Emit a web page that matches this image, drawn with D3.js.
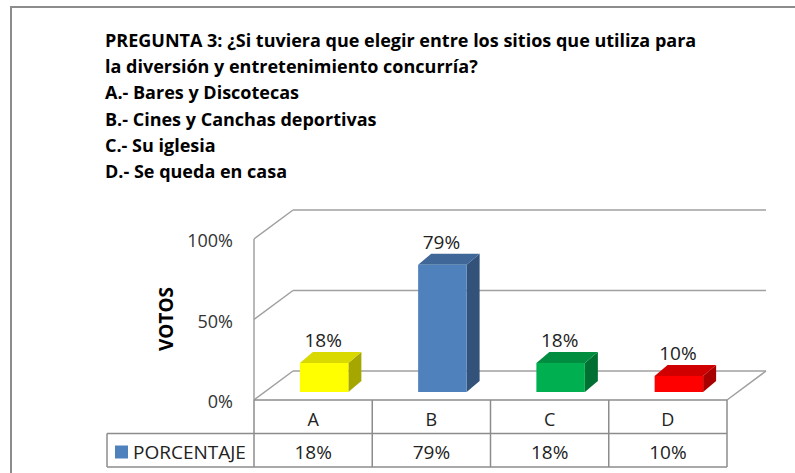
<!DOCTYPE html>
<html>
<head>
<meta charset="utf-8">
<script src="https://d3js.org/d3.v7.min.js"></script>
<style>
  body { margin: 0; background: #fff; }
  text { font-family: "Open Sans", "Noto Sans", sans-serif; fill: #000; }
</style>
</head>
<body>
<svg id="chart" width="795" height="473"></svg>
<script>
// data
const titleLines = [
  "PREGUNTA 3: ¿Si tuviera que elegir entre los sitios que utiliza para",
  "la diversión y entretenimiento concurría?",
  "A.- Bares y Discotecas",
  "B.- Cines y Canchas deportivas",
  "C.- Su iglesia",
  "D.- Se queda en casa"
];
const categories = ["A", "B", "C", "D"];
const values = [0.18, 0.79, 0.18, 0.10];
const labels = ["18%", "79%", "18%", "10%"];
const ticks = [0, 0.5, 1];
const seriesName = "PORCENTAJE";
const colors = [
  { front: "#FFFF00", top: "#D9D900", side: "#A6A600" },
  { front: "#4F81BD", top: "#3F6797", side: "#33527A" },
  { front: "#00B050", top: "#008D40", side: "#007032" },
  { front: "#FF0000", top: "#D00000", side: "#A80000" }
];

const svg = d3.select("#chart");

// outer frame
svg.append("rect")
  .attr("x", 11).attr("y", 7)
  .attr("width", 800).attr("height", 500)
  .attr("fill", "none")
  .attr("stroke", "#8c8c8c")
  .attr("stroke-width", 2);

// title
svg.append("g").selectAll("text")
  .data(titleLines)
  .join("text")
    .attr("x", 105)
    .attr("y", (d, i) => 47 + i * 26.2)
    .style("font-weight", "bold")
    .style("font-size", "18px")
    .text(d => d);

// 3d geometry
const x0 = 254, x1 = 727, floorY = 400;
const depth = [39, -29];
const x = d3.scaleBand().domain(categories).range([x0, x1]);
const h = d3.scaleLinear().domain([0, 1]).range([0, 161]);
const grid = "#a0a0a0";

const g = svg.append("g");

// walls gridlines
ticks.forEach(t => {
  const yf = floorY - h(t);
  g.append("line")
    .attr("x1", x0).attr("y1", yf)
    .attr("x2", x0 + depth[0]).attr("y2", yf + depth[1])
    .attr("stroke", grid).attr("stroke-width", 1.5);
  g.append("line")
    .attr("x1", x0 + depth[0]).attr("y1", yf + depth[1])
    .attr("x2", x1 + depth[0]).attr("y2", yf + depth[1])
    .attr("stroke", grid).attr("stroke-width", 1.5);
});
// front-left vertical
g.append("line")
  .attr("x1", x0).attr("y1", floorY - h(1))
  .attr("x2", x0).attr("y2", floorY)
  .attr("stroke", grid).attr("stroke-width", 1.5);
// floor right edge
g.append("line")
  .attr("x1", x1).attr("y1", floorY)
  .attr("x2", x1 + depth[0]).attr("y2", floorY + depth[1])
  .attr("stroke", grid).attr("stroke-width", 1.5);

// tick labels
g.selectAll(".tick")
  .data(ticks)
  .join("text")
    .attr("x", 233)
    .attr("y", d => floorY - h(d) + 8)
    .attr("text-anchor", "end")
    .style("font-size", "18px")
    .style("fill", "#333")
    .text(d => d3.format(".0%")(d));

// axis title
svg.append("text")
  .attr("transform", "translate(173,319) rotate(-90)")
  .attr("text-anchor", "middle")
  .style("font-weight", "bold")
  .style("font-size", "19px")
  .text("VOTOS");

// bars
const off = [11, -8];     // bar front offset into depth
const bd = [13, -11];     // bar depth
const bw = x.bandwidth() * 0.41;
const bars = g.selectAll(".bar")
  .data(categories.map((c, i) => ({ c, v: values[i], col: colors[i], lab: labels[i] })))
  .join("g");

bars.each(function (d) {
  const sel = d3.select(this);
  const left = x(d.c) + (x.bandwidth() - bw) / 2 + off[0];
  const right = left + bw;
  const bottom = floorY + off[1];
  const top = bottom - h(d.v);
  // side
  sel.append("path")
    .attr("d", `M${right},${bottom} L${right + bd[0]},${bottom + bd[1]} L${right + bd[0]},${top + bd[1]} L${right},${top} Z`)
    .attr("fill", d.col.side);
  // top
  sel.append("path")
    .attr("d", `M${left},${top} L${left + bd[0]},${top + bd[1]} L${right + bd[0]},${top + bd[1]} L${right},${top} Z`)
    .attr("fill", d.col.top);
  // front
  sel.append("rect")
    .attr("x", left).attr("y", top)
    .attr("width", bw).attr("height", bottom - top)
    .attr("fill", d.col.front);
  // label
  sel.append("text")
    .attr("x", (left + right) / 2 - 1)
    .attr("y", top + bd[1] - 5)
    .attr("text-anchor", "middle")
    .style("font-size", "19px")
    .style("fill", "#222")
    .text(d.lab);
});

// data table
const rowH = 33.5;
const tbl = svg.append("g");
const lineCol = "#8c8c8c";
const cols = categories.map(c => x(c)).concat([x1]);
// horizontal lines
tbl.append("line").attr("x1", x0).attr("x2", x1).attr("y1", floorY).attr("y2", floorY)
  .attr("stroke", lineCol).attr("stroke-width", 1.5);
tbl.append("line").attr("x1", 107).attr("x2", x1).attr("y1", floorY + rowH).attr("y2", floorY + rowH)
  .attr("stroke", lineCol).attr("stroke-width", 1.5);
tbl.append("line").attr("x1", 107).attr("x2", x1).attr("y1", floorY + 2 * rowH).attr("y2", floorY + 2 * rowH)
  .attr("stroke", lineCol).attr("stroke-width", 1.5);
// vertical lines
tbl.selectAll(".vl")
  .data(cols)
  .join("line")
    .attr("x1", d => d).attr("x2", d => d)
    .attr("y1", floorY).attr("y2", floorY + 2 * rowH)
    .attr("stroke", lineCol).attr("stroke-width", 1.5);
tbl.append("line").attr("x1", 107).attr("x2", 107)
  .attr("y1", floorY + rowH).attr("y2", floorY + 2 * rowH)
  .attr("stroke", lineCol).attr("stroke-width", 1.5);

// category names
tbl.selectAll(".cat")
  .data(categories)
  .join("text")
    .attr("x", d => x(d) + x.bandwidth() / 2)
    .attr("y", floorY + 26)
    .attr("text-anchor", "middle")
    .style("font-size", "18px")
    .style("fill", "#222")
    .text(d => d);
// values
tbl.selectAll(".val")
  .data(labels)
  .join("text")
    .attr("x", (d, i) => x(categories[i]) + x.bandwidth() / 2)
    .attr("y", floorY + rowH + 25)
    .attr("text-anchor", "middle")
    .style("font-size", "19px")
    .style("fill", "#222")
    .text(d => d);
// legend key
tbl.append("rect")
  .attr("x", 115).attr("y", floorY + rowH + 12)
  .attr("width", 13).attr("height", 13)
  .attr("fill", colors[1].front);
tbl.append("text")
  .attr("x", 133).attr("y", floorY + rowH + 25)
  .style("font-size", "19px")
  .style("fill", "#222")
  .text(seriesName);
</script>
</body>
</html>
